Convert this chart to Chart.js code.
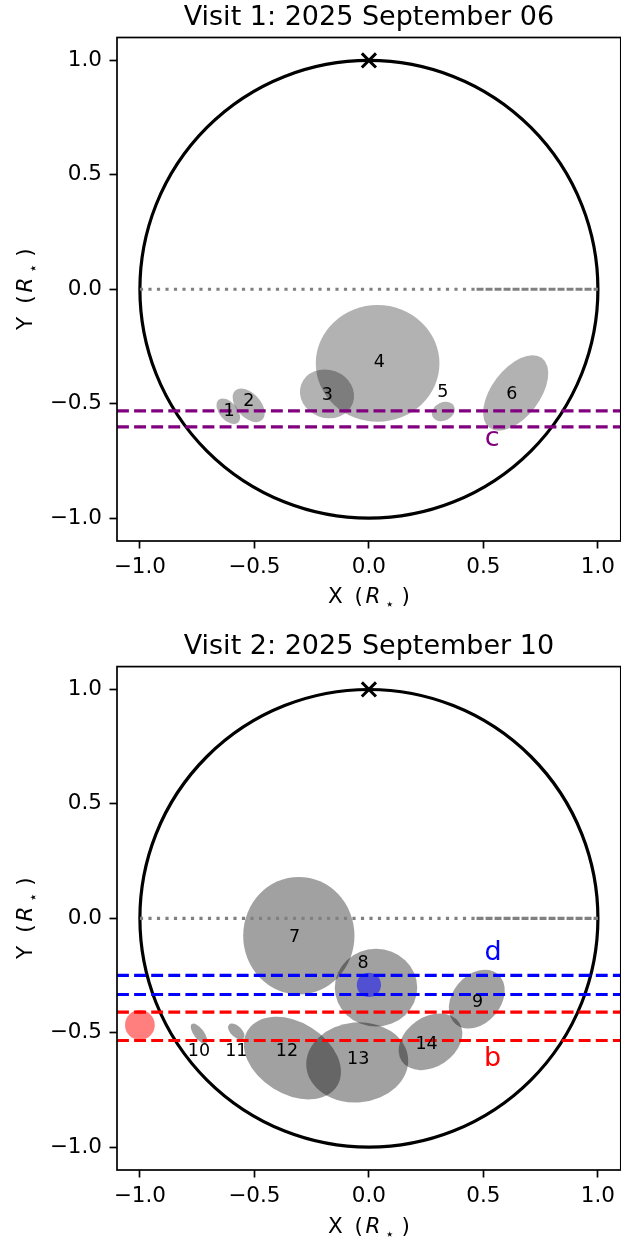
<!DOCTYPE html>
<html>
<head>
<meta charset="utf-8">
<script src="https://cdn.jsdelivr.net/npm/chart.js@4/dist/chart.umd.min.js"></script>
<style>
  html, body { margin: 0; padding: 0; background: #fff; }
  #wrap { position: relative; width: 621px; height: 1245px; overflow: hidden; }
  canvas { position: absolute; left: 0; }
</style>
</head>
<body>
<div id="wrap">
  <canvas id="visit1" width="621" height="620" style="top:0px"></canvas>
  <canvas id="visit2" width="621" height="625" style="top:620px"></canvas>
</div>
<script>
// ---- shared axis values (units of stellar radius) ----
const axisMin = -1.1;
const axisMax = 1.1;
const axisTicks = [-1.0, -0.5, 0.0, 0.5, 1.0];
const poleX = [0.0];
const poleY = [1.0];
const equatorDotX = [-1.0, 0.47];
const equatorDashX = [0.47, 1.0];

// ---- Visit 1: 2025 September 06 ----
const v1Title = 'Visit 1: 2025 September 06';
const v1SpotIds = ['1', '2', '3', '4', '5', '6'];
const v1SpotX = [-0.614, -0.525, -0.183, 0.038, 0.325, 0.641];
const v1SpotY = [-0.533, -0.507, -0.457, -0.324, -0.534, -0.453];
const v1SpotA = [0.065, 0.087, 0.120, 0.270, 0.052, 0.191];
const v1SpotB = [0.039, 0.052, 0.105, 0.255, 0.040, 0.105];
const v1SpotAngle = [-50, -48, -20, 0, 25, 53];
const v1LabelX = [-0.611, -0.524, -0.182, 0.046, 0.323, 0.624];
const v1LabelY = [-0.536, -0.492, -0.463, -0.322, -0.451, -0.460];
const v1ChordNames = ['c'];
const v1ChordColors = ['#800080'];
const v1ChordTop = [-0.531];
const v1ChordBottom = [-0.601];
const v1ChordLabelX = [0.538];
const v1ChordLabelY = [-0.655];
const v1PlanetX = [];
const v1PlanetY = [];
const v1PlanetR = [];
const v1PlanetColors = [];

// ---- Visit 2: 2025 September 10 ----
const v2Title = 'Visit 2: 2025 September 10';
const v2SpotIds = ['7', '8', '9', '10', '11', '12', '13', '14'];
const v2SpotX = [-0.306, 0.031, 0.471, -0.742, -0.579, -0.334, -0.051, 0.269];
const v2SpotY = [-0.076, -0.303, -0.353, -0.504, -0.495, -0.611, -0.630, -0.540];
const v2SpotA = [0.243, 0.180, 0.143, 0.052, 0.044, 0.230, 0.223, 0.151];
const v2SpotB = [0.257, 0.170, 0.105, 0.022, 0.024, 0.157, 0.175, 0.109];
const v2SpotAngle = [0, 0, 50, -53, -43, -32, 5, 34];
const v2LabelX = [-0.325, -0.025, 0.474, -0.742, -0.579, -0.358, -0.047, 0.252];
const v2LabelY = [-0.082, -0.198, -0.366, -0.584, -0.584, -0.584, -0.617, -0.550];
const v2ChordNames = ['d', 'b'];
const v2ChordColors = ['#0000ff', '#ff0000'];
const v2ChordTop = [-0.249, -0.410];
const v2ChordBottom = [-0.333, -0.534];
const v2ChordLabelX = [0.542, 0.540];
const v2ChordLabelY = [-0.152, -0.613];
const v2PlanetX = [0.0, -1.0];
const v2PlanetY = [-0.291, -0.466];
const v2PlanetR = [0.053, 0.065];
const v2PlanetColors = ['rgba(0,0,255,0.5)', 'rgba(255,0,0,0.5)'];

const FONT = '"DejaVu Sans", "Liberation Sans", sans-serif';
const INK = '#000000';

function fmtTick(v) {
  return Number(v).toFixed(1).replace('-', '\u2212');
}

// Ellipse in data units, placed through the chart's own scales.
function traceEllipse(chart, cx, cy, a, b, angleDeg) {
  const ctx = chart.ctx;
  const xs = chart.scales.x, ys = chart.scales.y;
  const X = xs.getPixelForValue(cx);
  const Y = ys.getPixelForValue(cy);
  const kx = xs.getPixelForValue(cx + 1) - X;
  const ky = ys.getPixelForValue(cy + 1) - Y;
  ctx.save();
  ctx.translate(X, Y);
  ctx.scale(kx, ky);
  ctx.rotate(angleDeg * Math.PI / 180);
  ctx.beginPath();
  ctx.ellipse(0, 0, a, b, 0, 0, Math.PI * 2);
  ctx.restore();
}

// Axis title of the form "X (R⋆)" with an italic R and a lowered star.
function drawMathLabel(ctx, prefix, x, y, rotated) {
  const size = 21.5;
  const normal = size + 'px ' + FONT;
  const italic = 'italic ' + size + 'px ' + FONT;
  const small = (size * 0.7) + 'px ' + FONT;
  const parts = [
    { t: prefix, f: normal, at: 0, dy: 0 },
    { t: '(', f: normal, at: 26.3, dy: 0 },
    { t: 'R', f: italic, at: 37.5, dy: 0 },
    { t: '\u22C6', f: small, at: 57, dy: 6 },
    { t: ')', f: normal, at: 73.3, dy: 0 }
  ];
  const half = 40.8;
  ctx.save();
  ctx.translate(x, y);
  if (rotated) ctx.rotate(-Math.PI / 2);
  ctx.fillStyle = INK;
  ctx.textBaseline = 'alphabetic';
  ctx.textAlign = 'left';
  parts.forEach(p => {
    ctx.font = p.f;
    ctx.fillText(p.t, p.at - half, p.dy);
  });
  ctx.restore();
}

function buildVisit(canvasId, v) {
  const datasets = [];
  // transit chords: two dashed horizontal lines per planet
  v.chordTop.forEach((yTop, i) => {
    [yTop, v.chordBottom[i]].forEach(yy => {
      datasets.push({
        type: 'line',
        data: [{ x: axisMin, y: yy }, { x: axisMax, y: yy }],
        borderColor: v.chordColors[i],
        borderWidth: 3.2,
        borderDash: [11.9, 5.2],
        pointRadius: 0,
        fill: false
      });
    });
  });
  // stellar equator
  datasets.push({
    type: 'line',
    data: equatorDotX.map(x => ({ x: x, y: 0 })),
    borderColor: '#808080', borderWidth: 3.2, borderDash: [3.2, 5.3],
    pointRadius: 0, fill: false
  });
  datasets.push({
    type: 'line',
    data: equatorDashX.map(x => ({ x: x, y: 0 })),
    borderColor: '#808080', borderWidth: 3.2, borderDash: [7, 2],
    pointRadius: 0, fill: false
  });
  // rotation pole
  datasets.push({
    type: 'scatter',
    data: poleX.map((x, i) => ({ x: x, y: poleY[i] })),
    pointStyle: 'crossRot', pointRadius: 10, borderWidth: 3,
    borderColor: INK, backgroundColor: INK
  });

  const shapes = {
    id: 'shapes',
    beforeDatasetsDraw(chart) {
      const ctx = chart.ctx, area = chart.chartArea;
      ctx.save();
      ctx.beginPath();
      ctx.rect(area.left, area.top, area.right - area.left, area.bottom - area.top);
      ctx.clip();
      v.spotX.forEach((x, i) => {
        traceEllipse(chart, x, v.spotY[i], v.spotA[i], v.spotB[i], v.spotAngle[i]);
        ctx.fillStyle = v.spotFill;
        ctx.fill();
      });
      v.planetX.forEach((x, i) => {
        traceEllipse(chart, x, v.planetY[i], v.planetR[i], v.planetR[i], 0);
        ctx.fillStyle = v.planetColors[i];
        ctx.fill();
      });
      // stellar limb
      traceEllipse(chart, 0, 0, 1, 1, 0);
      ctx.strokeStyle = INK;
      ctx.lineWidth = 3.2;
      ctx.stroke();
      ctx.restore();
    },
    afterDatasetsDraw(chart) {
      const ctx = chart.ctx, xs = chart.scales.x, ys = chart.scales.y;
      ctx.save();
      ctx.textAlign = 'center';
      ctx.textBaseline = 'middle';
      ctx.fillStyle = INK;
      ctx.font = '17.5px ' + FONT;
      v.spotIds.forEach((id, i) => {
        ctx.fillText(id, xs.getPixelForValue(v.labelX[i]), ys.getPixelForValue(v.labelY[i]));
      });
      ctx.font = '27px ' + FONT;
      v.chordNames.forEach((name, i) => {
        ctx.fillStyle = v.chordColors[i];
        ctx.fillText(name, xs.getPixelForValue(v.chordLabelX[i]), ys.getPixelForValue(v.chordLabelY[i]));
      });
      ctx.restore();
    },
    afterDraw(chart) {
      const ctx = chart.ctx, area = chart.chartArea;
      ctx.save();
      ctx.strokeStyle = INK;
      ctx.lineWidth = 1.7;
      ctx.strokeRect(area.left, area.top, area.right - area.left, area.bottom - area.top);
      // title
      ctx.fillStyle = INK;
      ctx.font = '27px ' + FONT;
      ctx.textAlign = 'center';
      ctx.textBaseline = 'alphabetic';
      ctx.fillText(v.title, (area.left + area.right) / 2, area.top - 13);
      ctx.restore();
      drawMathLabel(ctx, 'X', (area.left + area.right) / 2, area.bottom + v.xTitleOffset, false);
      drawMathLabel(ctx, 'Y', 32, (area.top + area.bottom) / 2, true);
    }
  };

  const tickFont = { family: FONT, size: 21.5 };
  const axis = (isX) => ({
    type: 'linear',
    min: axisMin,
    max: axisMax,
    afterBuildTicks: s => { s.ticks = axisTicks.map(t => ({ value: t })); },
    afterFit: s => {
      if (isX) s.height = v.xAxisHeight; else s.width = 117;
    },
    ticks: {
      callback: fmtTick, font: tickFont, color: INK,
      padding: isX ? 6 : 7.5, maxRotation: 0, autoSkip: false
    },
    grid: {
      drawOnChartArea: false, drawTicks: true, tickLength: 7.5,
      tickWidth: 1.7, tickColor: INK
    },
    border: { display: false }
  });

  return new Chart(document.getElementById(canvasId), {
    type: 'scatter',
    data: { datasets: datasets },
    options: {
      responsive: false,
      animation: false,
      devicePixelRatio: 1,
      layout: { autoPadding: false, padding: { top: v.padTop, left: 0, right: 0, bottom: 0 } },
      plugins: { legend: { display: false }, tooltip: { enabled: false }, title: { display: false } },
      scales: { x: axis(true), y: axis(false) }
    },
    plugins: [shapes]
  });
}

buildVisit('visit1', {
  title: v1Title, padTop: 37.5, xAxisHeight: 79, xTitleOffset: 62.3,
  spotIds: v1SpotIds, spotX: v1SpotX, spotY: v1SpotY, spotA: v1SpotA, spotB: v1SpotB,
  spotAngle: v1SpotAngle, labelX: v1LabelX, labelY: v1LabelY, spotFill: 'rgba(0,0,0,0.3)',
  chordNames: v1ChordNames, chordColors: v1ChordColors, chordTop: v1ChordTop, chordBottom: v1ChordBottom,
  chordLabelX: v1ChordLabelX, chordLabelY: v1ChordLabelY,
  planetX: v1PlanetX, planetY: v1PlanetY, planetR: v1PlanetR, planetColors: v1PlanetColors
});

buildVisit('visit2', {
  title: v2Title, padTop: 46.6, xAxisHeight: 75, xTitleOffset: 63,
  spotIds: v2SpotIds, spotX: v2SpotX, spotY: v2SpotY, spotA: v2SpotA, spotB: v2SpotB,
  spotAngle: v2SpotAngle, labelX: v2LabelX, labelY: v2LabelY, spotFill: 'rgba(0,0,0,0.37)',
  chordNames: v2ChordNames, chordColors: v2ChordColors, chordTop: v2ChordTop, chordBottom: v2ChordBottom,
  chordLabelX: v2ChordLabelX, chordLabelY: v2ChordLabelY,
  planetX: v2PlanetX, planetY: v2PlanetY, planetR: v2PlanetR, planetColors: v2PlanetColors
});
</script>
</body>
</html>
